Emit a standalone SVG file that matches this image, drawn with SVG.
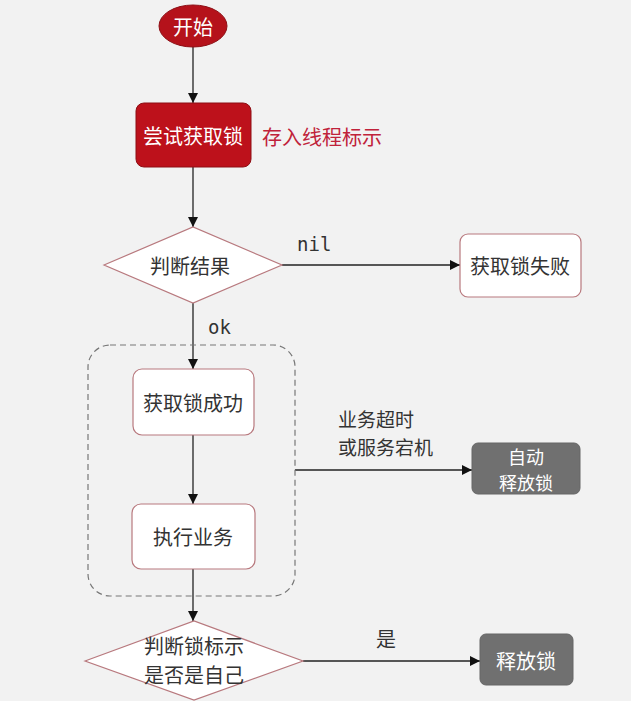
<svg xmlns="http://www.w3.org/2000/svg" width="631" height="701" viewBox="0 0 631 701">
<defs>
<marker id="arr" viewBox="0 0 10 10" refX="10" refY="5" markerWidth="10" markerHeight="10" markerUnits="userSpaceOnUse" orient="auto">
<path d="M0,0 L10,5 L0,10 Z" fill="#111"/>
</marker>
<style>
.t{font-family:"Noto Sans CJK SC","Noto Sans",sans-serif;font-size:20px;fill:#333;text-anchor:middle;dominant-baseline:central}
.w{fill:#fff}
.m{font-family:"DejaVu Sans Mono","Liberation Mono",monospace;font-size:19px;fill:#333}
.box{fill:#fff;stroke:#b8797e;stroke-width:1.2}
.grey{fill:#707070;stroke:#666;stroke-width:1}
.ln{stroke:#222;stroke-width:1.3;fill:none}
</style>
</defs>
<rect width="631" height="701" fill="#f2f2f2"/>
<g id="connectors">
<line class="ln" x1="193" y1="47" x2="193" y2="103" marker-end="url(#arr)"/>
<line class="ln" x1="193" y1="167" x2="193" y2="227" marker-end="url(#arr)"/>
<line class="ln" x1="282" y1="265" x2="460" y2="265" marker-end="url(#arr)"/>
<text class="m" x="297" y="251">nil</text>
<line class="ln" x1="193" y1="303" x2="193" y2="369" marker-end="url(#arr)"/>
<text class="m" x="208" y="334">ok</text>
<line class="ln" x1="193" y1="435" x2="193" y2="504" marker-end="url(#arr)"/>
<line class="ln" x1="295" y1="470" x2="472" y2="470" marker-end="url(#arr)"/>
<text class="t" x="338" y="418" style="text-anchor:start;font-size:19px">业务超时</text>
<text class="t" x="338" y="446" style="text-anchor:start;font-size:19px">或服务宕机</text>
<line class="ln" x1="193" y1="569" x2="193" y2="621" marker-end="url(#arr)"/>
<line class="ln" x1="303" y1="661" x2="480" y2="661" marker-end="url(#arr)"/>
<text class="t" x="386" y="638">是</text>
</g>
<g id="container">
<rect x="88" y="345" width="207" height="251" rx="22" fill="none" stroke="#777" stroke-width="1.2" stroke-dasharray="6,4"/>
</g>
<g id="start">
<ellipse cx="193" cy="26" rx="34" ry="21" fill="#b5121b" stroke="#8e0f15"/>
<text class="t w" x="193" y="26">开始</text>
</g>
<g id="tryLock">
<rect x="136" y="103" width="115" height="64" rx="8" fill="#bd111b" stroke="#8e0f15"/>
<text class="t w" x="193" y="135">尝试获取锁</text>
<text class="t" x="262" y="136" style="text-anchor:start;fill:#c0223a">存入线程标示</text>
</g>
<g id="judge">
<polygon class="box" points="104,265 193,227 282,265 193,303"/>
<text class="t" x="190" y="265">判断结果</text>
</g>
<g id="fail">
<rect class="box" x="460" y="234" width="121" height="63" rx="8"/>
<text class="t" x="520" y="265">获取锁失败</text>
</g>
<g id="success">
<rect class="box" x="133" y="369" width="121" height="66" rx="9"/>
<text class="t" x="193" y="402">获取锁成功</text>
</g>
<g id="exec">
<rect class="box" x="132" y="504" width="123" height="65" rx="9"/>
<text class="t" x="193" y="536">执行业务</text>
</g>
<g id="autoRelease">
<rect class="grey" x="472" y="443" width="108" height="51" rx="6"/>
<text class="t w" x="526" y="455.5" style="font-size:18px">自动</text>
<text class="t w" x="526" y="481.5" style="font-size:18px">释放锁</text>
</g>
<g id="judgeOwner">
<polygon class="box" points="85,661 194,621 303,661 194,700"/>
<text class="t" x="194" y="645">判断锁标示</text>
<text class="t" x="194" y="674">是否是自己</text>
</g>
<g id="release">
<rect class="grey" x="480" y="634" width="93" height="51" rx="6"/>
<text class="t w" x="526" y="660">释放锁</text>
</g>
</svg>
